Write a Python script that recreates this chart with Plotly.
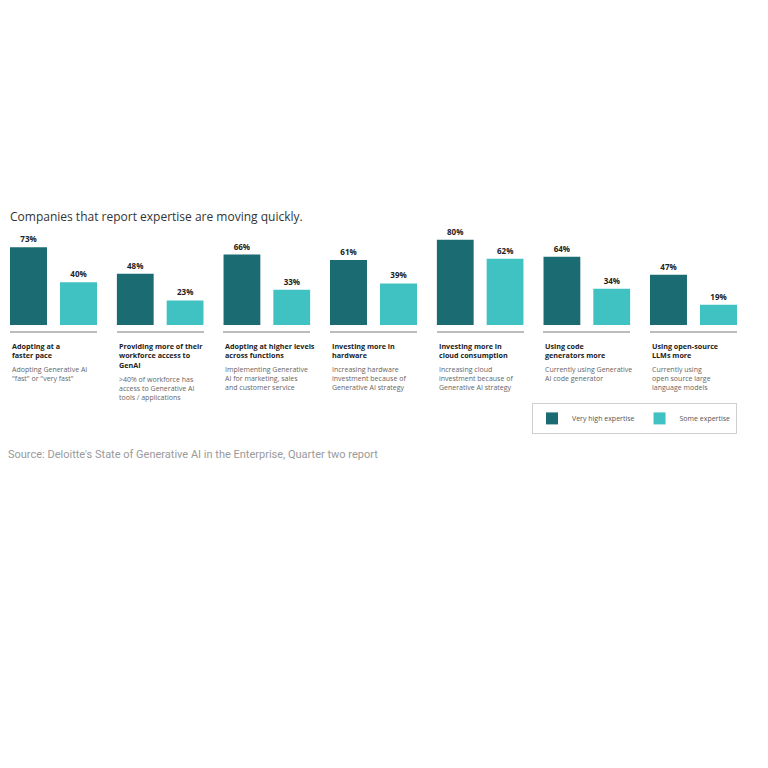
import plotly.graph_objects as go
from plotly.subplots import make_subplots

# Chart data
series_names = ["Very high expertise", "Some expertise"]
very_high = [73, 48, 66, 61, 80, 64, 47]
some_expertise = [40, 23, 33, 39, 62, 34, 19]
group_titles = [
    "Adopting at a<br>faster pace",
    "Providing more of their<br>workforce access to<br>GenAI",
    "Adopting at higher levels<br>across functions",
    "Investing more in<br>hardware",
    "Investing more in<br>cloud consumption",
    "Using code<br>generators more",
    "Using open-source<br>LLMs more",
]
group_notes = [
    "Adopting Generative AI<br>\"fast\" or \"very fast\"",
    ">40% of workforce has<br>access to Generative AI<br>tools / applications",
    "Implementing Generative<br>AI for marketing, sales<br>and customer service",
    "Increasing hardware<br>investment because of<br>Generative AI strategy",
    "Increasing cloud<br>investment because of<br>Generative AI strategy",
    "Currently using Generative<br>AI code generator",
    "Currently using<br>open source large<br>language models",
]

DARK = "#1b6b73"
LIGHT = "#40c1c2"
FONT = "Open Sans"

# page body has an 8px margin, so the figure is sized to fit inside it
W = H = 752

n = len(very_high)
fig = make_subplots(rows=1, cols=n, horizontal_spacing=0.027)

for i in range(n):
    for name, vals, color in ((series_names[0], very_high, DARK),
                              (series_names[1], some_expertise, LIGHT)):
        fig.add_trace(go.Bar(
            x=[name], y=[vals[i]], name=name,
            marker={"color": color, "line": {"width": 0}},
            width=0.74,
            texttemplate="<b>%{y}%</b>", textposition="outside",
            textfont={"size": 8, "color": "#222", "family": FONT},
            cliponaxis=False,
            legendgroup=name, showlegend=(i == 0),
            hovertemplate="%{x}: %{y}%<extra></extra>",
        ), row=1, col=i + 1)

fig.update_xaxes(range=[-0.37, 1.37], showline=True, linecolor="#bdbdbd", linewidth=1.5,
                 showticklabels=False, ticks="", showgrid=False, zeroline=False)
fig.update_yaxes(range=[-5.65, 90], visible=False, showgrid=False, zeroline=False)

annotations = []
for i in range(n):
    xref = "x domain" if i == 0 else f"x{i + 1} domain"
    lines = group_titles[i].count("<br>") + 1
    annotations.append(dict(
        text=f"<b>{group_titles[i]}</b>", xref=xref, yref="paper", x=0, y=0,
        xanchor="left", yanchor="top", yshift=-8, align="left", showarrow=False,
        font={"size": 7.2, "color": "#222", "family": FONT},
    ))
    annotations.append(dict(
        text=group_notes[i], xref=xref, yref="paper", x=0, y=0,
        xanchor="left", yanchor="top", yshift=-(13 + lines * 9.7), align="left", showarrow=False,
        font={"size": 7, "color": "#666", "family": FONT},
    ))

annotations.append(dict(
    text="Source: Deloitte's State of Generative AI in the Enterprise, Quarter two report",
    xref="paper", yref="paper", x=-0.006, y=-1.21, xanchor="left", yanchor="middle",
    showarrow=False, font={"size": 11, "color": "#9a9a9a", "family": "Roboto"},
))

fig.update_layout(
    width=W, height=H,
    barmode="overlay",
    title={
        "text": "Companies that report expertise are moving quickly.",
        "x": 2 / W, "xanchor": "left", "y": 1 - 209 / H, "yanchor": "middle",
        "font": {"size": 12, "color": "#333", "family": FONT},
    },
    font={"family": FONT, "color": "#222"},
    paper_bgcolor="white", plot_bgcolor="white",
    margin={"l": 2, "r": 23, "t": 221, "b": 429},
    showlegend=True,
    legend={
        "orientation": "h", "x": 1.0, "xanchor": "right", "y": -0.705, "yanchor": "top",
        "bordercolor": "#cfcfcf", "borderwidth": 1,
        "font": {"size": 7, "color": "#555", "family": FONT},
        "itemwidth": 30,
    },
    annotations=annotations,
)

fig.write_html("out.html")
